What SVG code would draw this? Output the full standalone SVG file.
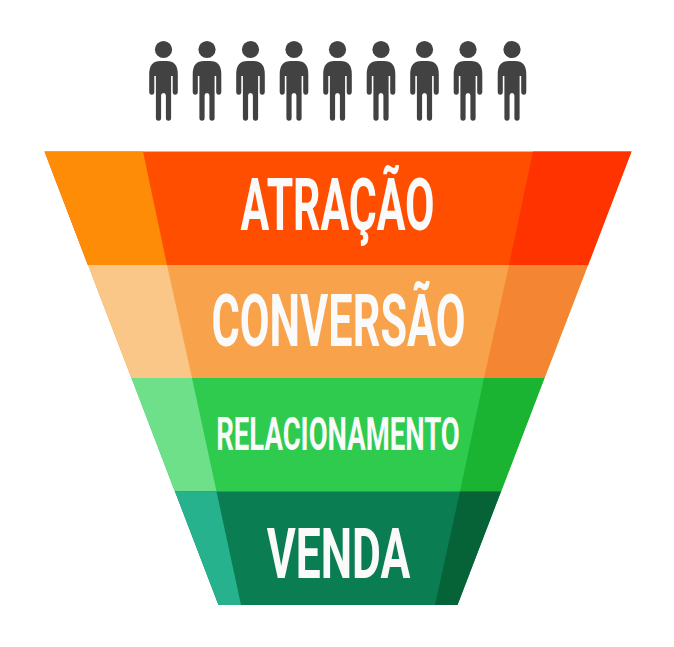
<svg xmlns="http://www.w3.org/2000/svg" width="674" height="647" viewBox="0 0 674 647">
<style>
.t{font-family:"Roboto","Liberation Sans",sans-serif;font-weight:700;fill:#fafafa}
.p{fill:#424242}
</style>
<defs>
<g id="person">
<circle cx="0" cy="49.5" r="8.6"/>
<path d="M-14.3 91.5V74Q-14.3 61 -3 61H3Q14.3 61 14.3 74V91.5Q14.3 94.8 11.7 94.8Q9.2 94.8 9.2 91.5V76H7.6V118Q7.6 120.8 5 120.8Q2.4 120.8 2.4 118V95.5Q2.4 93 0 93Q-2.4 93 -2.4 95.5V118Q-2.4 120.8 -5 120.8Q-7.6 120.8 -7.6 118V76H-9.2V91.5Q-9.2 94.8 -11.7 94.8Q-14.3 94.8 -14.3 91.5Z"/>
</g>
</defs>
<g id="people" class="p">
<use href="#person" x="163.5"/><use href="#person" x="207"/><use href="#person" x="250.5"/><use href="#person" x="294"/><use href="#person" x="337.5"/><use href="#person" x="381"/><use href="#person" x="424.5"/><use href="#person" x="468"/><use href="#person" x="512"/>
</g>
<g id="atracao">
<polygon points="44.5,151.5 631.5,151.5 588,265.5 88,265.5" fill="#ff4e00"/>
<polygon points="44.5,151.5 143,151.5 167,265 88,265" fill="#ff8c07"/>
<polygon points="533,151.5 631.5,151.5 588,265 509,265" fill="#ff3300"/>
<text class="t" x="337.5" y="229.5" font-size="71.5" text-anchor="middle" textLength="194" lengthAdjust="spacingAndGlyphs">ATRAÇÃO</text>
</g>
<g id="conversao">
<polygon points="88,265 588,265 544.5,378.5 131.5,378.5" fill="#f8a34c"/>
<polygon points="88,265 167,265 192,378 131.5,378" fill="#fac788"/>
<polygon points="509,265 588,265 544.5,378 484,378" fill="#f48633"/>
<text class="t" x="338.5" y="346" font-size="71.5" text-anchor="middle" textLength="254" lengthAdjust="spacingAndGlyphs">CONVERSÃO</text>
</g>
<g id="relacionamento">
<polygon points="131.5,378 544.5,378 501,492 175,492" fill="#2ecb4f"/>
<polygon points="131.5,378 192,378 216.5,491.5 175,491.5" fill="#6fe08a"/>
<polygon points="484,378 544.5,378 501,491.5 460,491.5" fill="#1bb332"/>
<text class="t" x="338" y="450" font-size="46.5" text-anchor="middle" textLength="243.5" lengthAdjust="spacingAndGlyphs">RELACIONAMENTO</text>
</g>
<g id="venda">
<polygon points="175,491.5 501,491.5 457.5,605 218.5,605" fill="#0b7d52"/>
<polygon points="175,491.5 216.5,491.5 241,605 218.5,605" fill="#25b28c"/>
<polygon points="460,491.5 501,491.5 457.5,605 435,605" fill="#056337"/>
<text class="t" x="338.5" y="577.5" font-size="71" text-anchor="middle" textLength="143.5" lengthAdjust="spacingAndGlyphs">VENDA</text>
</g>
</svg>
